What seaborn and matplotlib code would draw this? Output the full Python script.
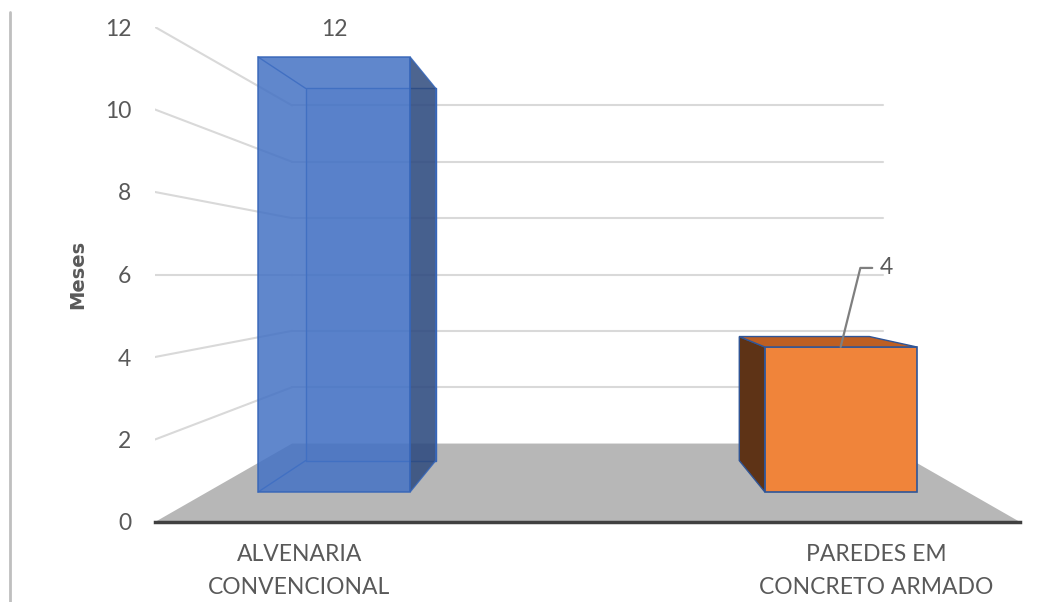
import matplotlib
matplotlib.use("Agg")
import matplotlib.pyplot as plt
import seaborn as sns
import pandas as pd
from matplotlib.patches import Polygon
from matplotlib.lines import Line2D
from matplotlib.transforms import Affine2D

# ---------------- data ----------------
categories = ["ALVENARIA\nCONVENCIONAL", "PAREDES EM\nCONCRETO ARMADO"]
months = [12, 4]
yticks = [0, 2, 4, 6, 8, 10, 12]
ylabel = "Meses"

# ---------------- style ----------------
front_colors = ["#4472C4", "#F0843A"]
side_colors = ["#2E4A7D", "#5E3316"]
top_colors = ["#3A64B0", "#BE5F22"]
edge_colors = ["#3565B8", "#2F5597"]
face_alpha = [0.85, 1.0]
grid_color = "#D9D9D9"
floor_color = "#B7B7B7"
text_color = "#595959"
FS = 16.5

sns.set_theme(style="white")
plt.rcParams['font.family'] = ['Lato', 'DejaVu Sans']

W, H = 1052, 602
fig = plt.figure(figsize=(W / 100, H / 100), dpi=100)
ax = fig.add_axes([155 / W, (H - 522) / H, 865 / W, 495 / H])

# perspective settings (vanishing point in data coords, depth scales)
VX, VY = 0.5, 6.0
S_WALL, S_FRONT, S_BACK = 0.683, 0.878, 0.752
XL, XR = -0.25, 1.25


def proj(x, y, s):
    return (VX + s * (x - VX), VY + s * (y - VY))


df = pd.DataFrame({"cat": categories, "months": months})
sns.barplot(data=df, x="cat", y="months", hue="cat", palette=front_colors,
            width=0.30, saturation=1, legend=False, ax=ax)
ax.set_xlim(XL, XR)
ax.set_ylim(0, 12)
ax.grid(False)

bars = list(ax.patches)

# floor
floor = Polygon([proj(XL, 0, 1), proj(XR, 0, 1), proj(XR, 0, S_WALL), proj(XL, 0, S_WALL)],
                closed=True, facecolor=floor_color, edgecolor="none", zorder=0.5)
ax.add_patch(floor)

# back wall + side wall gridlines
for v in yticks[1:]:
    a, b = proj(XL, v, S_WALL), proj(XR, v, S_WALL)
    ax.add_line(Line2D([a[0], b[0]], [a[1], b[1]], color=grid_color, lw=1.5, zorder=0.6))
    c = proj(XL, v, 1)
    ax.add_line(Line2D([c[0], a[0]], [c[1], a[1]], color=grid_color, lw=1.5, zorder=0.6))

front_tf = Affine2D().translate(-VX, -VY).scale(S_FRONT).translate(VX, VY) + ax.transData

for i, p in enumerate(bars):
    x0, y0 = p.get_x(), p.get_y()
    x1, y1 = x0 + p.get_width(), y0 + p.get_height()
    p.set_transform(front_tf)
    p.set_alpha(face_alpha[i])
    p.set_edgecolor(edge_colors[i])
    p.set_linewidth(1.2)
    p.set_zorder(2)
    xc = (x0 + x1) / 2
    # visible side face
    xs = x1 if xc < VX else x0
    side = Polygon([proj(xs, y0, S_FRONT), proj(xs, y1, S_FRONT),
                    proj(xs, y1, S_BACK), proj(xs, y0, S_BACK)], closed=True,
                   facecolor=side_colors[i], edgecolor=edge_colors[i], lw=1.0,
                   alpha=face_alpha[i], zorder=2.5)
    ax.add_patch(side)
    if y1 < VY:
        top = Polygon([proj(x0, y1, S_FRONT), proj(x1, y1, S_FRONT),
                       proj(x1, y1, S_BACK), proj(x0, y1, S_BACK)], closed=True,
                      facecolor=top_colors[i], edgecolor=edge_colors[i], lw=1.0,
                      alpha=face_alpha[i], zorder=2.5)
        ax.add_patch(top)
    if face_alpha[i] < 1:
        # hidden edges visible through the transparent bar
        back = [proj(x0, y0, S_BACK), proj(x1, y0, S_BACK), proj(x1, y1, S_BACK),
                proj(x0, y1, S_BACK), proj(x0, y0, S_BACK)]
        ax.add_line(Line2D([q[0] for q in back], [q[1] for q in back],
                           color=edge_colors[i], lw=1.0, zorder=1.9))
        for yy in (y0, y1):
            a, b = proj(x0, yy, S_FRONT), proj(x0, yy, S_BACK)
            ax.add_line(Line2D([a[0], b[0]], [a[1], b[1]], color=edge_colors[i],
                               lw=1.0, zorder=1.9))
        back_face = Polygon(back[:4], closed=True, facecolor=front_colors[i],
                            edgecolor="none", alpha=0.25, zorder=1.8)
        ax.add_patch(back_face)

    # data labels
    tx, ty = proj(xc, y1, S_FRONT)
    if y1 > VY:
        ax.annotate(f"{months[i]}", xy=(tx, ty), xytext=(0, 28),
                    textcoords="offset pixels", ha="center", va="center",
                    fontsize=FS, color=text_color, zorder=4)
    else:
        ax.annotate(f"{months[i]}", xy=(tx, ty), xytext=(39, 79),
                    textcoords="offset pixels", ha="left", va="center",
                    fontsize=FS, color=text_color, zorder=4,
                    arrowprops=dict(arrowstyle="-", color="#7F7F7F", lw=1.6,
                                    connectionstyle="angle,angleA=0,angleB=76,rad=0",
                                    relpos=(0, 0.5), shrinkA=3, shrinkB=0))

# axes cosmetics
for s in ["top", "right", "left"]:
    ax.spines[s].set_visible(False)
ax.spines["bottom"].set_color("#404040")
ax.spines["bottom"].set_linewidth(2.5)
ax.spines["bottom"].set_zorder(3)

ax.set_yticks(yticks)
ax.set_yticklabels([str(t) for t in yticks])
ax.set_xticks(range(len(categories)))
ax.set_xticklabels(categories, linespacing=1.7)
ax.tick_params(axis="y", length=0, pad=17, labelsize=FS, labelcolor=text_color)
ax.tick_params(axis="x", length=0, pad=16, labelsize=FS, labelcolor=text_color)
ax.set_xlabel("")
ax.set_ylabel(ylabel, fontsize=14, fontweight="bold", color=text_color,
              family=["DejaVu Sans"])
ax.yaxis.set_label_coords(-0.089, 0.5)
ax.yaxis.label.set_verticalalignment("center")

fig.add_artist(Line2D([10 / W, 10 / W], [0, 1 - 12 / H], transform=fig.transFigure,
                      color="#BFBFBF", lw=2))

fig.savefig("out.png", dpi=100)
